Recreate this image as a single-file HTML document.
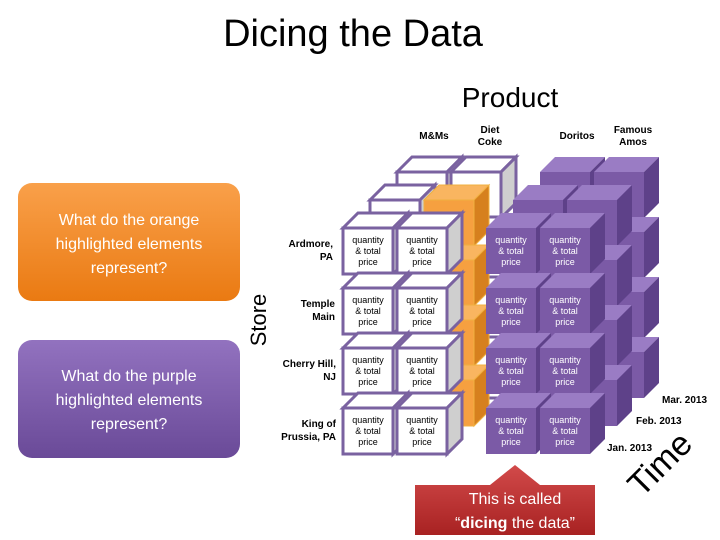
<!DOCTYPE html>
<html><head><meta charset="utf-8"><style>
body{margin:0;background:#fff;}
svg{display:block;font-family:"Liberation Sans",sans-serif;}
</style></head><body>
<svg id="s" width="720" height="540" viewBox="0 0 720 540" xmlns="http://www.w3.org/2000/svg">
<defs>
<linearGradient id="og" x1="0" y1="0" x2="0" y2="1"><stop offset="0" stop-color="#f9a04a"/><stop offset="1" stop-color="#ea7a12"/></linearGradient>
<linearGradient id="pg" x1="0" y1="0" x2="0" y2="1"><stop offset="0" stop-color="#9272bf"/><stop offset="1" stop-color="#6a4a98"/></linearGradient>
<linearGradient id="rg" x1="0" y1="0" x2="0" y2="1"><stop offset="0" stop-color="#d24a4a"/><stop offset="1" stop-color="#a82222"/></linearGradient>
</defs>
<text x="353" y="46" font-size="38" text-anchor="middle" fill="#000">Dicing the Data</text>
<text x="510" y="107" font-size="28" text-anchor="middle" fill="#000">Product</text>
<g font-size="10" font-weight="bold" text-anchor="middle" fill="#000">
<text x="434" y="139">M&amp;Ms</text>
<text x="490" y="133">Diet</text><text x="490" y="145">Coke</text>
<text x="577" y="139">Doritos</text>
<text x="633" y="133">Famous</text><text x="633" y="145">Amos</text>
</g>
<rect x="18" y="183" width="222" height="118" rx="14" fill="url(#og)"/>
<g font-size="16" fill="#fff" text-anchor="middle"><text x="129" y="225">What do the orange</text><text x="129" y="249">highlighted elements</text><text x="129" y="273">represent?</text></g>
<rect x="18" y="340" width="222" height="118" rx="14" fill="url(#pg)"/>
<g font-size="16" fill="#fff" text-anchor="middle"><text x="129" y="381">What do the purple</text><text x="129" y="405">highlighted elements</text><text x="129" y="429">represent?</text></g>
<text transform="translate(266,320) rotate(-90)" font-size="22" text-anchor="middle">Store</text>
<g font-size="10" font-weight="bold" text-anchor="end">
<text x="333" y="247">Ardmore,</text><text x="333" y="260">PA</text>
<text x="335" y="307">Temple</text><text x="335" y="320">Main</text>
<text x="336" y="367">Cherry Hill,</text><text x="336" y="380">NJ</text>
<text x="336" y="427">King of</text><text x="336" y="440">Prussia, PA</text>
</g>
<g id="cubes"></g>
<g font-size="9" text-anchor="middle" id="lbl"></g>
<g font-size="10" font-weight="bold">
<text x="662" y="403">Mar. 2013</text>
<text x="636" y="424">Feb. 2013</text>
<text x="607" y="451">Jan. 2013</text>
</g>
<text transform="translate(668,472) rotate(-45)" font-size="34" text-anchor="middle">Time</text>
<path d="M415,485 H490 L515,465 L540,485 H595 V535 H415 Z" fill="url(#rg)"/>
<g font-size="16" fill="#fff" text-anchor="middle"><text x="515" y="504">This is called</text><text x="515" y="528">“<tspan font-weight="bold">dicing</tspan> the data”</text></g>
</svg>
<script>
var g=document.getElementById('cubes'),h='';
function cube(x,y,t){var w=50,hh=46,d=15,f,s,tp,st;
if(t=='w'){f='#fff';s='#cfcfcf';tp='#fff';st='stroke="#7a62a0" stroke-width="3"';}
else if(t=='o'){f='#f6a040';s='#d6801e';tp='#f9b560';st='stroke="#f0b040" stroke-width="1"';}
else{f='#7b5aa6';s='#5e4189';tp='#9a7cc4';st='';}
h+='<polygon points="'+x+','+y+' '+(x+d)+','+(y-d)+' '+(x+w+d)+','+(y-d)+' '+(x+w)+','+y+'" fill="'+tp+'" '+st+'/>';
h+='<polygon points="'+(x+w)+','+y+' '+(x+w+d)+','+(y-d)+' '+(x+w+d)+','+(y+hh-d)+' '+(x+w)+','+(y+hh)+'" fill="'+s+'" '+st+'/>';
h+='<rect x="'+x+'" y="'+y+'" width="'+w+'" height="'+hh+'" fill="'+f+'" '+st+'/>';}
var rows=[228,288,348,408];
for(var L=2;L>=0;L--){var ox=27*L,oy=-28*L;
for(var r=0;r<4;r++){var y=rows[r]+oy;
cube(343+ox,y,'w');cube(397+ox,y,L==1?'o':'w');cube(486+ox,y,'p');cube(540+ox,y,'p');}}
g.innerHTML=h;
</script>
<svg style="position:absolute;left:0;top:0" width="720" height="540">
<g font-family="Liberation Sans" font-size="9" text-anchor="middle">
<g fill="#000">
<text x="368" y="243">quantity</text><text x="368" y="254">&amp; total</text><text x="368" y="265">price</text>
<text x="422" y="243">quantity</text><text x="422" y="254">&amp; total</text><text x="422" y="265">price</text>
<text x="368" y="303">quantity</text><text x="368" y="314">&amp; total</text><text x="368" y="325">price</text>
<text x="422" y="303">quantity</text><text x="422" y="314">&amp; total</text><text x="422" y="325">price</text>
<text x="368" y="363">quantity</text><text x="368" y="374">&amp; total</text><text x="368" y="385">price</text>
<text x="422" y="363">quantity</text><text x="422" y="374">&amp; total</text><text x="422" y="385">price</text>
<text x="368" y="423">quantity</text><text x="368" y="434">&amp; total</text><text x="368" y="445">price</text>
<text x="422" y="423">quantity</text><text x="422" y="434">&amp; total</text><text x="422" y="445">price</text>
</g>
<g fill="#fff">
<text x="511" y="243">quantity</text><text x="511" y="254">&amp; total</text><text x="511" y="265">price</text>
<text x="565" y="243">quantity</text><text x="565" y="254">&amp; total</text><text x="565" y="265">price</text>
<text x="511" y="303">quantity</text><text x="511" y="314">&amp; total</text><text x="511" y="325">price</text>
<text x="565" y="303">quantity</text><text x="565" y="314">&amp; total</text><text x="565" y="325">price</text>
<text x="511" y="363">quantity</text><text x="511" y="374">&amp; total</text><text x="511" y="385">price</text>
<text x="565" y="363">quantity</text><text x="565" y="374">&amp; total</text><text x="565" y="385">price</text>
<text x="511" y="423">quantity</text><text x="511" y="434">&amp; total</text><text x="511" y="445">price</text>
<text x="565" y="423">quantity</text><text x="565" y="434">&amp; total</text><text x="565" y="445">price</text>
</g></g></svg>
</body></html>
